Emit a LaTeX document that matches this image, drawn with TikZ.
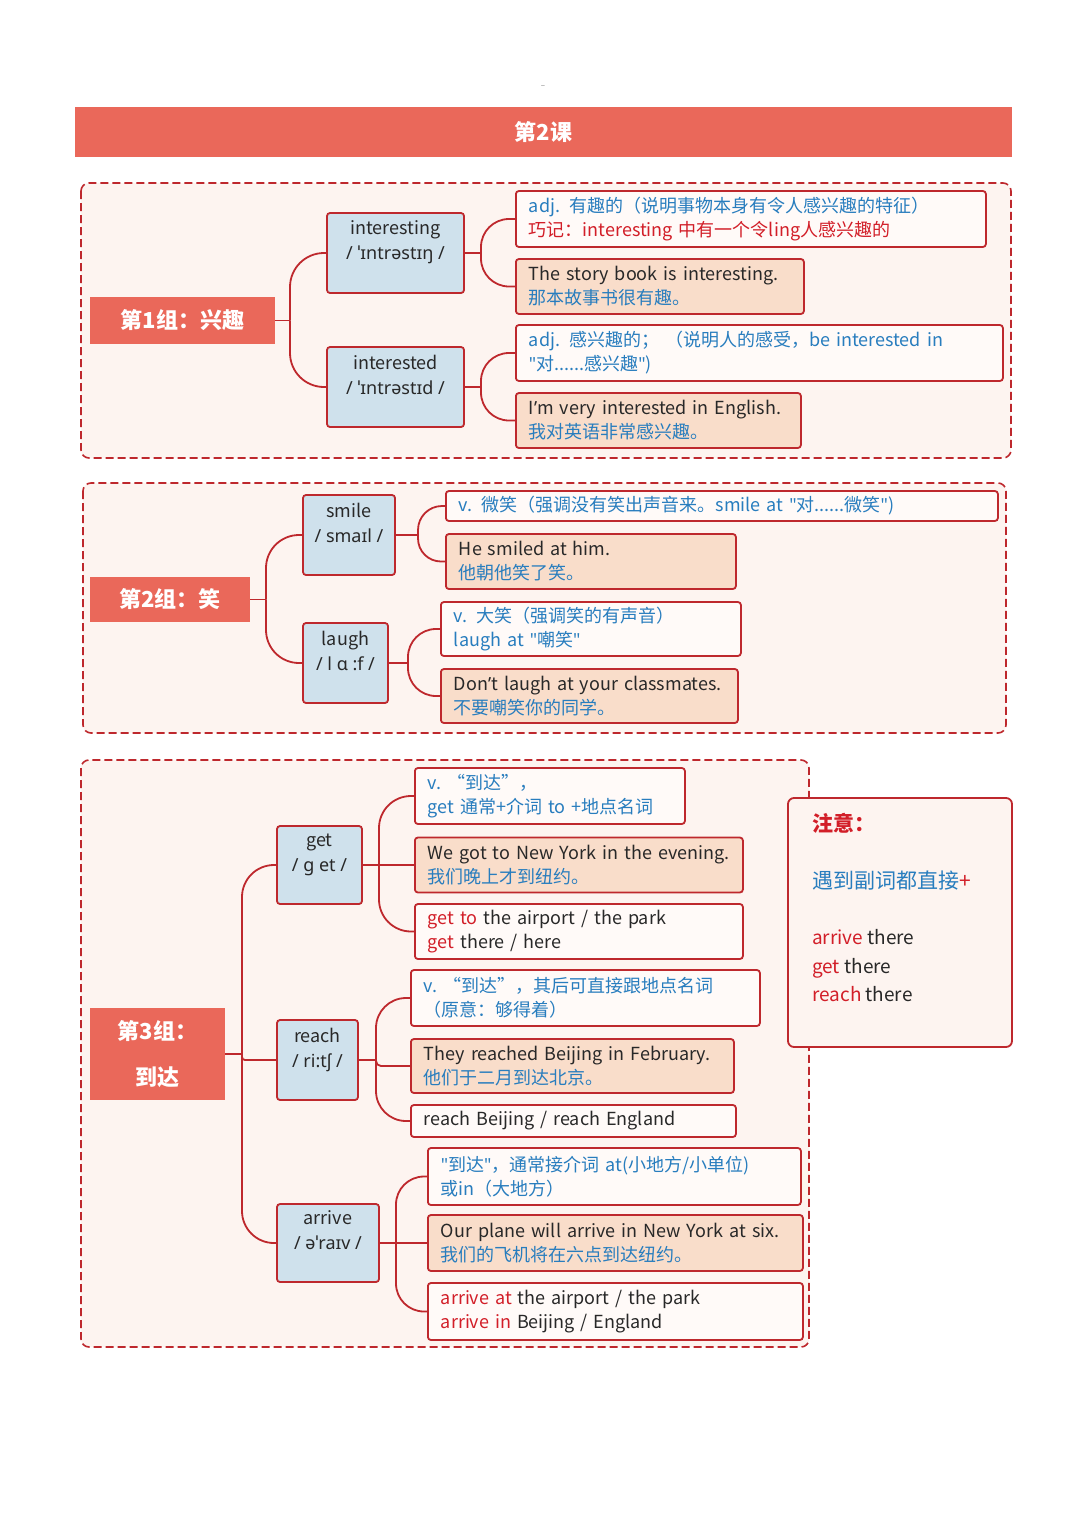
\documentclass[tikz,border=0pt]{standalone}
\usepackage{fontspec}
\setmainfont{Noto Sans CJK SC}
\newfontfamily\latin{Noto Sans}
\definecolor{bord}{RGB}{190,40,45}
\definecolor{redband}{RGB}{234,104,90}
\definecolor{grpfill}{RGB}{253,244,240}
\definecolor{wfill}{RGB}{255,250,248}
\definecolor{peach}{RGB}{249,221,202}
\definecolor{bluefill}{RGB}{207,225,236}
\definecolor{bluetxt}{RGB}{40,125,190}
\definecolor{redtxt}{RGB}{210,30,40}
\definecolor{dark}{RGB}{40,40,40}
\newcommand\fsbox{\fontsize{18}{24}\selectfont}
\newcommand\fsword{\fontsize{18}{25}\selectfont}
\newcommand\fslab{\fontsize{22}{46}\selectfont\bfseries}
\newcommand\oneline[1]{\mbox{#1}}
\newcommand\ipaline[1]{{\latin\fontsize{18}{25}\selectfont #1}}
\newcommand\qq{{\latin "}}
\newcommand\ap{{\latin ’}}
\tikzset{
  boxbase/.style={draw=bord, line width=1.8pt, rounded corners=3pt, anchor=west, align=left, inner xsep=13pt, inner ysep=0pt, font=\fsbox, text=bluetxt},
  wbox/.style={boxbase, fill=wfill},
  pbox/.style={boxbase, fill=peach, text=dark},
  wordbox/.style={draw=bord, line width=1.8pt, fill=bluefill, rounded corners=3pt, align=center, inner sep=0pt, font=\fsword, text=dark},
  grouplabel/.style={fill=redband, text=white, font=\fslab, inner sep=0pt, align=center},
  conn/.style={draw=bord, line width=1.8pt, rounded corners=#1},
  conn/.default=0pt,
  groupbox/.style={draw=bord, line width=1.6pt, dash pattern=on 8pt off 4pt, fill=grpfill, rounded corners=8pt},
  notebox/.style={draw=bord, line width=1.8pt, fill=grpfill, rounded corners=6pt, inner sep=0pt},
  notetext/.style={anchor=base west, inner sep=0pt, text=dark, font=\fontsize{19}{19}\selectfont},
}
\begin{document}
\begin{tikzpicture}[x=1pt, y=-1pt]
\useasboundingbox (0,0) rectangle (1080,1528);
\fill[white] (0,0) rectangle (1080,1528);

% header
\node[text=gray, font=\fontsize{8}{8}\selectfont, inner sep=0pt] (topdash) at (543,87) {--};
\node[fill=redband, minimum width=937pt, minimum height=50pt, inner sep=0pt, text=white, font=\fontsize{22}{26}\selectfont\bfseries] (hdr) at (543.5,132) {第2课};

% ---------- group 1 ----------
\draw[groupbox] (81,183) rectangle (1011,458);
\node[grouplabel, minimum width=185pt, minimum height=47pt] (lab1) at (182.5,320.5) {第1组：兴趣};
\node[wordbox, minimum width=137pt, minimum height=80pt] (w1) at (395.5,253) {interesting\\\ipaline{/ ˈɪntrəstɪŋ /}\\\mbox{}};
\node[wordbox, minimum width=137pt, minimum height=80pt] (w2) at (395.5,387) {interested\\\ipaline{/ ˈɪntrəstɪd /}\\\mbox{}};
\node[wbox, text width=444pt, minimum height=56pt] (a1) at (515,219) {\oneline{adj. 有趣的（说明事物本身有令人感兴趣的特征）}\\\oneline{\textcolor{redtxt}{巧记：interesting 中有一个令ling人感兴趣的}}};
\node[pbox, text width=262pt, minimum height=55pt] (a2) at (515,286.5) {\oneline{The story book is interesting.}\\\oneline{\textcolor{bluetxt}{那本故事书很有趣。}}};
\node[wbox, text width=461pt, minimum height=56pt] (a3) at (515,353) {\oneline{adj. 感兴趣的；\ （说明人的感受，be interested in}\\\oneline{\qq 对......感兴趣\qq)}};
\node[pbox, text width=259pt, minimum height=55pt] (a4) at (515,420.5) {\oneline{I\ap m very interested in English.}\\\oneline{\textcolor{bluetxt}{我对英语非常感兴趣。}}};

\coordinate (j1) at (290,320.5);
\draw[conn] (lab1.east) -- (j1);
\draw[conn=34pt] (j1) |- (w1.west);
\draw[conn=34pt] (j1) |- (w2.west);
\coordinate (j1a) at (481,253);
\draw[conn] (w1.east) -- (j1a);
\draw[conn=28pt] (j1a) |- (a1.west);
\draw[conn=28pt] (j1a) |- (a2.west);
\coordinate (j1b) at (481,387);
\draw[conn] (w2.east) -- (j1b);
\draw[conn=28pt] (j1b) |- (a3.west);
\draw[conn=28pt] (j1b) |- (a4.west);

% ---------- group 2 ----------
\draw[groupbox] (83,483) rectangle (1006,733);
\node[grouplabel, minimum width=160pt, minimum height=45pt] (lab2) at (170,599.5) {第2组：笑};
\node[wordbox, minimum width=92pt, minimum height=80pt] (smile) at (349,535) {smile\\\ipaline{/ smaɪl /}\\\mbox{}};
\node[wordbox, minimum width=85pt, minimum height=80pt] (laugh) at (345.5,663) {laugh\\\ipaline{/ l ɑ :f /}\\\mbox{}};
\node[wbox, text width=526pt, minimum height=30pt] (b1) at (445,506) {\oneline{v. 微笑（强调没有笑出声音来。smile at \qq 对......微笑\qq)}};
\node[pbox, text width=264pt, minimum height=55pt] (b2) at (445,561.5) {\oneline{He smiled at him.}\\\oneline{\textcolor{bluetxt}{他朝他笑了笑。}}};
\node[wbox, text width=274pt, minimum height=54pt] (b3) at (440,629) {\oneline{v. 大笑（强调笑的有声音）}\\\oneline{laugh at \qq 嘲笑\qq}};
\node[pbox, text width=271pt, minimum height=54pt] (b4) at (440,696) {\oneline{Don\ap t laugh at your classmates.}\\\oneline{\textcolor{bluetxt}{不要嘲笑你的同学。}}};

\coordinate (j2) at (266,599.5);
\draw[conn] (lab2.east) -- (j2);
\draw[conn=33pt] (j2) |- (smile.west);
\draw[conn=33pt] (j2) |- (laugh.west);
\coordinate (j2a) at (418,535);
\draw[conn] (smile.east) -- (j2a);
\draw[conn=24pt] (j2a) |- (b1.west);
\draw[conn=23pt] (j2a) |- (b2.west);
\coordinate (j2b) at (408,663);
\draw[conn] (laugh.east) -- (j2b);
\draw[conn=28pt] (j2b) |- (b3.west);
\draw[conn=28pt] (j2b) |- (b4.west);

% ---------- group 3 ----------
\draw[groupbox] (81,760) rectangle (809,1347);
\node[grouplabel, minimum width=135pt, minimum height=92pt] (lab3) at (157.5,1054) {第3组：\\到达};
\node[wordbox, minimum width=85pt, minimum height=78pt] (get) at (319.5,865) {get\\\ipaline{/ g et /}\\\mbox{}};
\node[wordbox, minimum width=81pt, minimum height=80pt] (reach) at (317.5,1060) {reach\\\ipaline{/ ri:tʃ /}\\\mbox{}};
\node[wordbox, minimum width=102pt, minimum height=78pt] (arrive) at (328,1243) {arrive\\\ipaline{/ əˈraɪv /}\\\mbox{}};

\node[wbox, text width=244pt, minimum height=56pt] (c1) at (414,796) {\oneline{v.\ “到达”，}\\\oneline{get 通常+介词 to +地点名词}};
\node[pbox, text width=302pt, minimum height=55pt] (c2) at (414,865) {\oneline{We got to New York in the evening.}\\\oneline{\textcolor{bluetxt}{我们晚上才到纽约。}}};
\node[wbox, text=dark, text width=302pt, minimum height=55pt] (c3) at (414,931.5) {\oneline{\textcolor{redtxt}{get to} the airport / the park}\\\oneline{\textcolor{redtxt}{get} there / here}};
\node[wbox, text width=323pt, minimum height=56pt] (d1) at (410,998) {\oneline{v.\ “到达”，其后可直接跟地点名词}\\\oneline{（原意：够得着）}};
\node[pbox, text width=297pt, minimum height=54pt] (d2) at (410,1066) {\oneline{They reached Beijing in February.}\\\oneline{\textcolor{bluetxt}{他们于二月到达北京。}}};
\node[wbox, text=dark, text width=299pt, minimum height=32pt] (d3) at (410,1121) {\oneline{reach Beijing / reach England}};
\node[wbox, text width=347pt, minimum height=57pt] (e1) at (427,1176.5) {\oneline{\qq 到达\qq，通常接介词 at(小地方/小单位)}\\\oneline{或in（大地方）}};
\node[pbox, text width=349pt, minimum height=56pt] (e2) at (427,1243) {\oneline{Our plane will arrive in New York at six.}\\\oneline{\textcolor{bluetxt}{我们的飞机将在六点到达纽约。}}};
\node[wbox, text=dark, text width=349pt, minimum height=57pt] (e3) at (427,1311.5) {\oneline{\textcolor{redtxt}{arrive at} the airport / the park}\\\oneline{\textcolor{redtxt}{arrive in} Beijing / England}};

\coordinate (j3) at (242,1054);
\draw[conn] (lab3.east) -- (j3);
\draw[conn=32pt] (j3) |- (get.west);
\draw[conn=3pt] (j3) |- (reach.west);
\draw[conn=32pt] (j3) |- (arrive.west);
\coordinate (j3a) at (379,865);
\draw[conn] (get.east) -- (j3a);
\draw[conn=32pt] (j3a) |- (c1.west);
\draw[conn] (j3a) -- (c2.west);
\draw[conn=32pt] (j3a) |- (c3.west);
\coordinate (j3b) at (376,1060);
\draw[conn] (reach.east) -- (j3b);
\draw[conn=30pt] (j3b) |- (d1.west);
\draw[conn=5pt] (j3b) |- (d2.west);
\draw[conn=30pt] (j3b) |- (d3.west);
\coordinate (j3c) at (396,1243);
\draw[conn] (arrive.east) -- (j3c);
\draw[conn=28pt] (j3c) |- (e1.west);
\draw[conn] (j3c) -- (e2.west);
\draw[conn=28pt] (j3c) |- (e3.west);

% ---------- note ----------
\node[notebox, minimum width=224pt, minimum height=249pt] (note) at (900,922.5) {};
\node[notetext, text=redtxt, font=\fontsize{21}{21}\selectfont\bfseries] (n1) at (812,831) {注意：};
\node[notetext, text=bluetxt, font=\fontsize{21}{21}\selectfont] (n2) at (812,888) {遇到副词都直接\textcolor{redtxt}{+}};
\node[notetext] (n3) at (812,944) {\textcolor{redtxt}{arrive} there};
\node[notetext] (n4) at (812,973) {\textcolor{redtxt}{get} there};
\node[notetext] (n5) at (812,1001) {\textcolor{redtxt}{reach} there};
\end{tikzpicture}
\end{document}
